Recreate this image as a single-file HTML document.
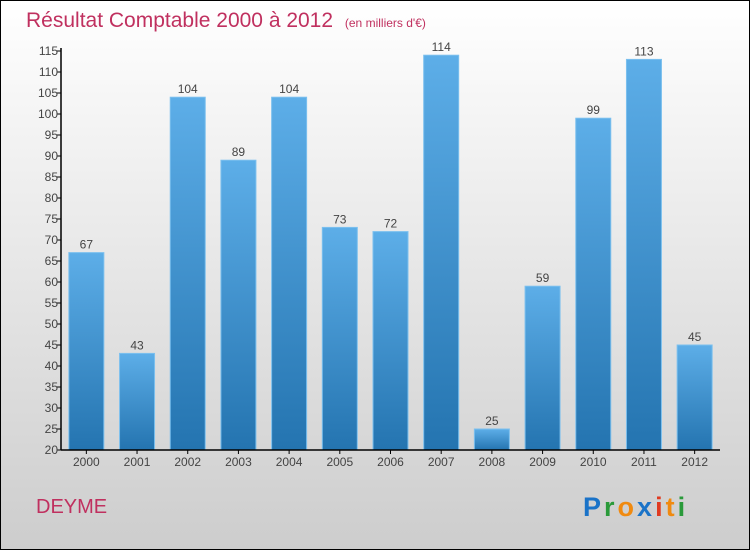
<!DOCTYPE html>
<html><head><meta charset="utf-8"><style>
body{margin:0;width:750px;height:550px;overflow:hidden}
svg{display:block;font-family:"Liberation Sans",sans-serif}
</style></head><body>
<svg width="750" height="550" viewBox="0 0 750 550">
<defs>
<linearGradient id="bg" x1="0" y1="0" x2="0" y2="1"><stop offset="0" stop-color="#ffffff"/><stop offset="1" stop-color="#cdcdcd"/></linearGradient>
<linearGradient id="bar" x1="0" y1="0" x2="0" y2="1"><stop offset="0" stop-color="#5daee8"/><stop offset="1" stop-color="#2474b0"/></linearGradient>
</defs>
<rect x="0.5" y="0.5" width="749" height="549" fill="url(#bg)" stroke="#000"/>
<text x="26" y="27" font-size="21" fill="#c0305f">Résultat Comptable 2000 à 2012 <tspan font-size="12" dx="6">(en milliers d'€)</tspan></text>
<g id="plot"></g>
<text x="36" y="513" font-size="20" fill="#c0305f">DEYME</text>
<text x="583" y="516" font-size="27" font-weight="bold" letter-spacing="3"><tspan fill="#1a73c8">P</tspan><tspan fill="#2a9a3a">r</tspan><tspan fill="#f08a10">o</tspan><tspan fill="#1a73c8">x</tspan><tspan fill="#e03a20">i</tspan><tspan fill="#f08a10">t</tspan><tspan fill="#2a9a3a">i</tspan></text>
</svg>
<script>
const categories=["2000","2001","2002","2003","2004","2005","2006","2007","2008","2009","2010","2011","2012"];
const values=[67,43,104,89,104,73,72,114,25,59,99,113,45];
const yTicks=[20,25,30,35,40,45,50,55,60,65,70,75,80,85,90,95,100,105,110,115];
const NS="http://www.w3.org/2000/svg";
const g=document.getElementById('plot');
const x0=61,x1=720,yTop=51,yBot=450,ymin=20,ymax=115;
const y=v=>yBot-(v-ymin)/(ymax-ymin)*(yBot-yTop);
const step=(x1-x0)/categories.length;
const xc=i=>x0+step*(i+0.5);
function el(t,a){const e=document.createElementNS(NS,t);for(const k in a)e.setAttribute(k,a[k]);g.appendChild(e);return e;}
values.forEach((v,i)=>{
 const r=el('rect',{x:xc(i)-17.5,y:y(v),width:35,height:yBot-y(v),fill:'url(#bar)',stroke:'#7cc0ee','stroke-width':1});
 
 
 const t=el('text',{x:xc(i),y:y(v)-4,'text-anchor':'middle','font-size':12,fill:'#444'});
 t.textContent=v;
 
 
 const l=el('text',{x:xc(i),y:yBot+16,'text-anchor':'middle','font-size':12,fill:'#444'});
 l.textContent=categories[i];
 
 
 el('line',{x1:xc(i),x2:xc(i),y1:yBot,y2:yBot+4,stroke:'#000'});
});
yTicks.forEach(v=>{
 el('line',{x1:x0-4,x2:x0,y1:y(v),y2:y(v),stroke:'#000'});
 const t=el('text',{x:x0-3,y:y(v)+4,'text-anchor':'end','font-size':12,fill:'#444'});
 t.textContent=v;
 
 
});
const ya=el('line',{x1:x0,x2:x0,y1:yTop-3,y2:yBot,stroke:'#000','stroke-width':1.5});


const xa=el('line',{x1:x0,x2:x1,y1:yBot,y2:yBot,stroke:'#000','stroke-width':1.5});


</script>
</body></html>
